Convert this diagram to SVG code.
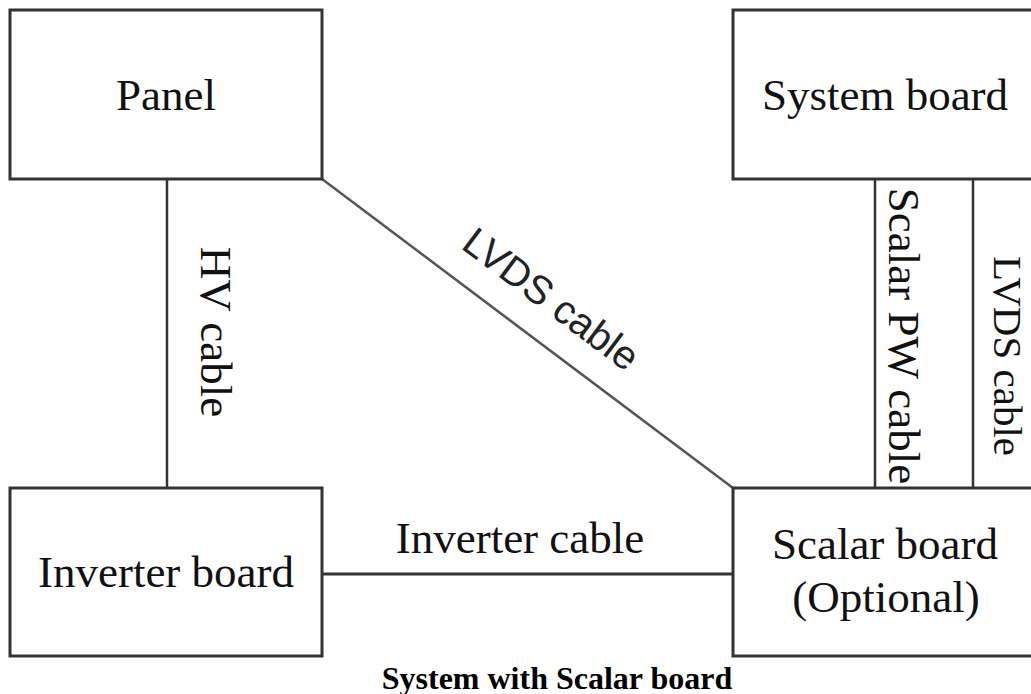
<svg xmlns="http://www.w3.org/2000/svg" width="1031" height="694" viewBox="0 0 1031 694">
<style>
.box{fill:#fff;stroke:#333;stroke-width:3}
.lbl{font-family:"Liberation Serif","Times New Roman",serif;font-size:45px;fill:#111;text-anchor:middle}
.wire{stroke:#333;stroke-width:2.5;fill:none}
.diag{stroke:#555;stroke-width:2.5;fill:none}
.sans{font-family:"Liberation Sans",Arial,sans-serif;font-size:40px;fill:#222;text-anchor:middle}
.cap{font-family:"Liberation Serif","Times New Roman",serif;font-size:32px;font-weight:bold;fill:#000;text-anchor:middle}
</style>
<rect width="1031" height="694" fill="#fff"/>
<g id="connectors">
<line class="wire" x1="167" y1="179" x2="167" y2="488"/>
<line class="diag" x1="322" y1="179" x2="733" y2="488"/>
<line class="wire" x1="322" y1="574" x2="733" y2="574" style="stroke-width:3"/>
<line class="wire" x1="875" y1="179" x2="875" y2="488"/>
<line class="wire" x1="973" y1="179" x2="973" y2="488"/>
<text class="lbl" x="332" y="-201" transform="rotate(90)">HV cable</text>
<text class="sans" x="543" y="310" transform="rotate(36.9 543 310)">LVDS cable</text>
<text class="lbl" x="520" y="553">Inverter cable</text>
<text class="lbl" x="336" y="-889" transform="rotate(90)">Scalar PW cable</text>
<text class="lbl" x="356" y="-994" transform="rotate(90)" style="font-size:41px">LVDS cable</text>
</g>
<g id="panel">
<rect class="box" x="10" y="10" width="312" height="169"/>
<text class="lbl" x="166" y="110">Panel</text>
</g>
<g id="system-board">
<rect class="box" x="733" y="10" width="310" height="169"/>
<text class="lbl" x="885" y="110">System board</text>
</g>
<g id="inverter-board">
<rect class="box" x="10" y="488" width="312" height="168"/>
<text class="lbl" x="166" y="587">Inverter board</text>
</g>
<g id="scalar-board">
<rect class="box" x="733" y="488" width="310" height="168"/>
<text class="lbl" x="885" y="559">Scalar board</text>
<text class="lbl" x="886" y="612">(Optional)</text>
</g>
<text class="cap" x="557" y="689">System with Scalar board</text>
</svg>
